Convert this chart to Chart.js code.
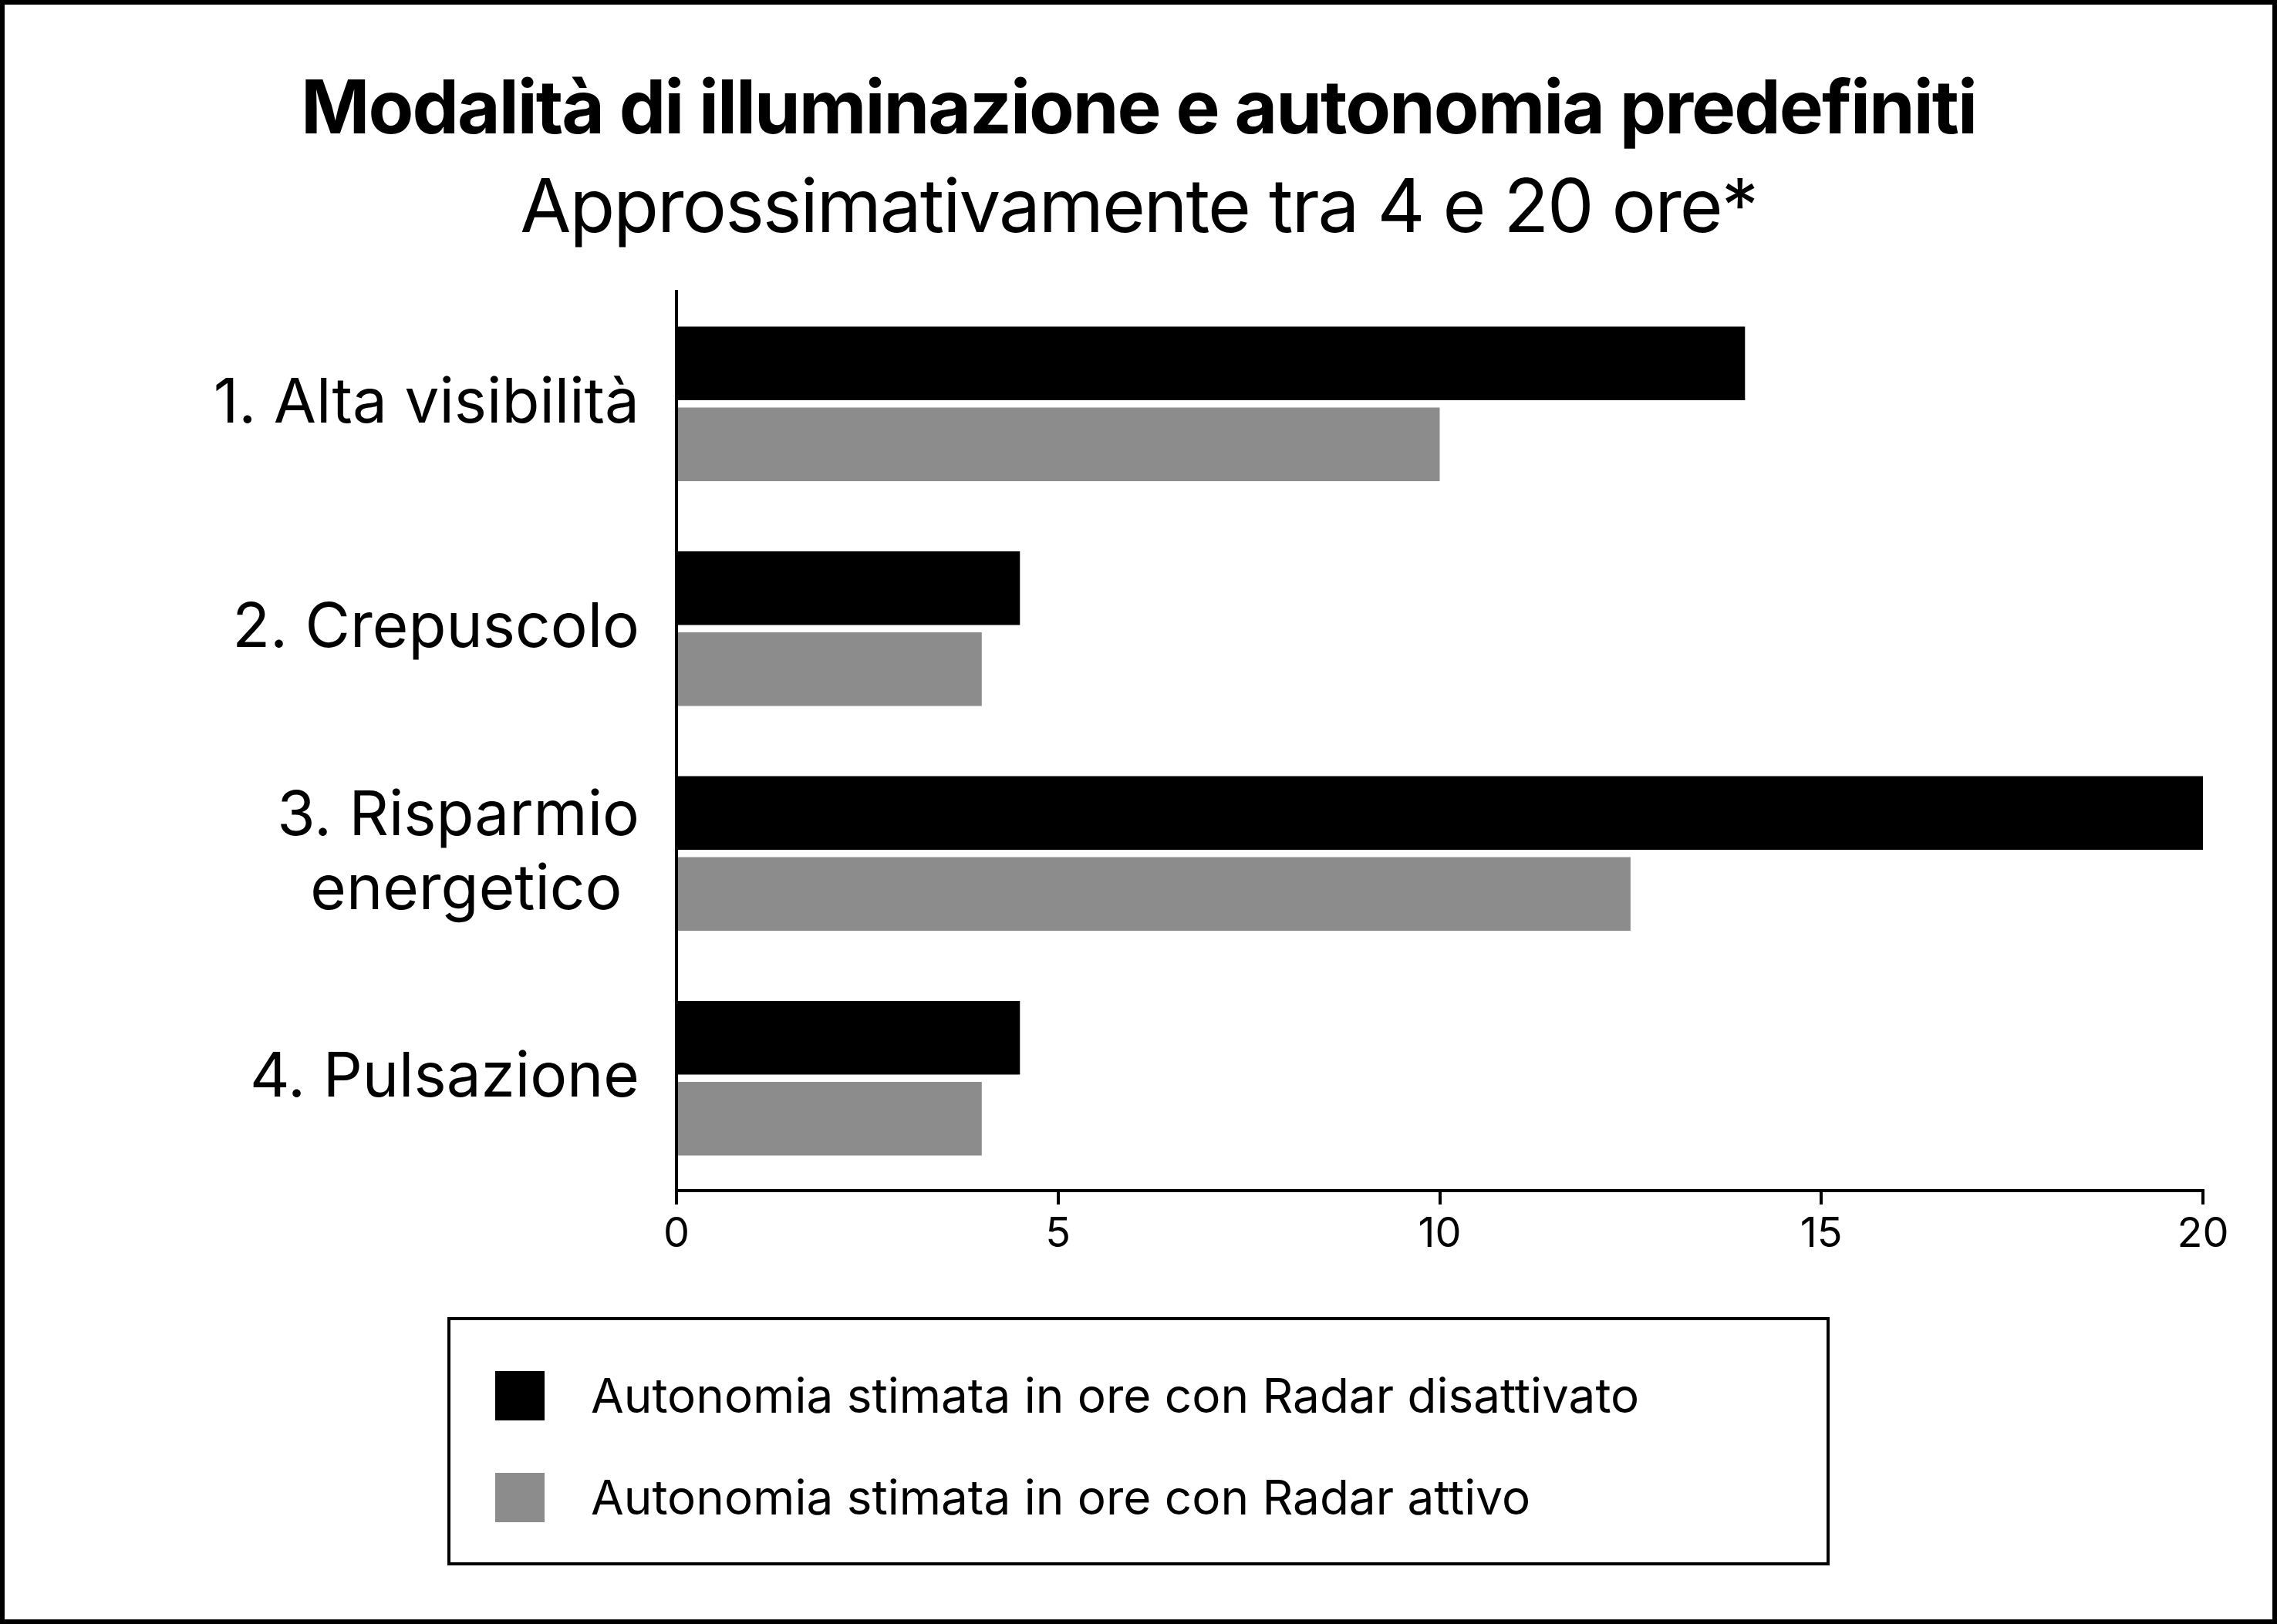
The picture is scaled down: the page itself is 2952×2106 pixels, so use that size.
<!DOCTYPE html>
<html><head><meta charset="utf-8">
<script src="https://cdn.jsdelivr.net/npm/chart.js@4"></script>
<style>
html,body{margin:0;padding:0;background:#fff}
#wrap{position:relative;width:2952px;height:2106px;box-sizing:border-box;border:6px solid #000;font-family:Inter,sans-serif;overflow:hidden}
#c{position:absolute;left:0;top:0}
#t{position:absolute;left:0;width:100%;text-align:center;top:72px;font-size:96px;font-weight:700;letter-spacing:-2px;line-height:120px}
#s{position:absolute;left:0;width:100%;text-align:center;top:200px;font-size:96px;font-weight:400;letter-spacing:-2px;line-height:120px}
#lg{position:absolute;left:574px;top:1702px;width:1792px;height:322px;box-sizing:border-box;border:4px solid #000;font-size:62px}
.it{position:absolute;left:58px;display:flex;align-items:center}
.sw{width:64px;height:64px;margin-right:60px}
</style></head><body>
<div id="wrap">
<canvas id="c" width="2940" height="2094"></canvas>
<div id="t">Modalità di illuminazione e autonomia predefiniti</div>
<div id="s">Approssimativamente tra 4 e 20 ore*</div>
<div id="lg">
<div class="it" style="top:60px"><div class="sw" style="background:#000"></div><span id="l1"></span></div>
<div class="it" style="top:192px"><div class="sw" style="background:#8c8c8c"></div><span id="l2"></span></div>
</div>
</div>
<script>
const categories=[["1. Alta visibilità"],["2. Crepuscolo"],["3. Risparmio","energetico "],["4. Pulsazione"]];
const seriesNames=["Autonomia stimata in ore con Radar disattivato","Autonomia stimata in ore con Radar attivo"];
const radarOff=[14,4.5,20,4.5];
const radarOn=[10,4,12.5,4];
const xTicks=[0,5,10,15,20];
document.getElementById('l1').textContent=seriesNames[0];
document.getElementById('l2').textContent=seriesNames[1];
new Chart(document.getElementById('c'),{type:'bar',
data:{labels:categories,datasets:[
{label:seriesNames[0],data:radarOff,backgroundColor:'#000'},
{label:seriesNames[1],data:radarOn,backgroundColor:'#8c8c8c'}]},
options:{indexAxis:'y',responsive:false,animation:false,
layout:{padding:{left:0,right:90,top:372,bottom:446}},
categoryPercentage:0.72,barPercentage:0.91,
plugins:{legend:{display:false},tooltip:{enabled:false}},
scales:{
x:{min:0,max:20,afterBuildTicks:s=>{s.ticks=xTicks.map(v=>({value:v}))},
 border:{color:'#000',width:4},grid:{drawOnChartArea:false,color:'#000',lineWidth:4,tickLength:18},
 ticks:{color:'#000',font:{family:'Inter',size:54},padding:6},afterFit:s=>{s.height=110}},
y:{border:{color:'#000',width:4},grid:{display:false},
 ticks:{color:'#000',font:{family:'Inter',size:80},padding:40,lineHeight:1},
 afterFit:s=>{s.width=871}}}}});
</script>
</body></html>
